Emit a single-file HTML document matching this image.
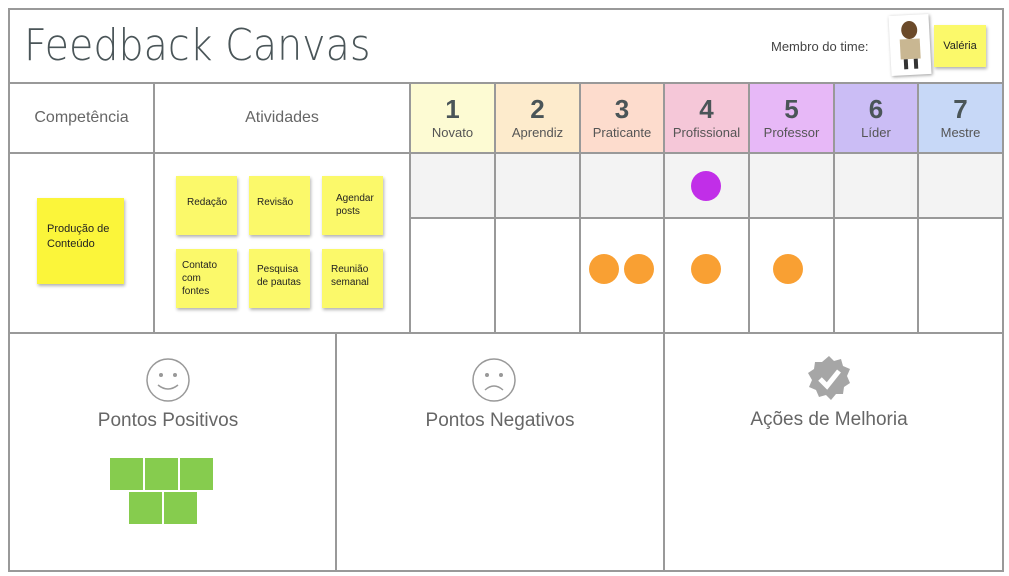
<!DOCTYPE html>
<html><head><meta charset="utf-8"><style>
body{margin:0;width:1009px;height:576px;background:#fff;position:relative;overflow:hidden;font-family:"Liberation Sans",sans-serif;}
.a{position:absolute;}
.h{position:absolute;background:#999;height:2px;}
.v{position:absolute;background:#999;width:2px;}
.t{position:absolute;text-align:center;color:#666;}
.n{font-size:26px;font-weight:bold;color:#4a5558;}
.lv{font-size:13px;color:#555;}
.s{position:absolute;background:#fbf96a;box-shadow:1px 2px 3px rgba(0,0,0,.3);font-size:10px;color:#222;}
.dot{position:absolute;width:30px;height:30px;border-radius:50%;}
.g{position:absolute;background:#86cc4e;width:33px;height:32px;}
</style></head><body>
<div class="a" style="left:411px;top:84px;width:84px;height:69px;background:#fdfbd3"></div>
<div class="a" style="left:496px;top:84px;width:84px;height:69px;background:#fdebcc"></div>
<div class="a" style="left:581px;top:84px;width:83px;height:69px;background:#fddccd"></div>
<div class="a" style="left:665px;top:84px;width:84px;height:69px;background:#f5c7d8"></div>
<div class="a" style="left:750px;top:84px;width:84px;height:69px;background:#e7b8f7"></div>
<div class="a" style="left:835px;top:84px;width:83px;height:69px;background:#cbbdf5"></div>
<div class="a" style="left:919px;top:84px;width:84px;height:69px;background:#c7d8f7"></div>
<div class="a" style="left:411px;top:154px;width:592px;height:64px;background:#f3f3f3"></div>
<div class="h" style="left:9px;top:8px;width:995px"></div>
<div class="h" style="left:9px;top:82px;width:995px"></div>
<div class="h" style="left:9px;top:152px;width:995px"></div>
<div class="h" style="left:410px;top:217px;width:594px"></div>
<div class="h" style="left:9px;top:332px;width:995px"></div>
<div class="h" style="left:9px;top:570px;width:995px"></div>
<div class="v" style="left:8px;top:8px;height:564px"></div>
<div class="v" style="left:1002px;top:8px;height:564px"></div>
<div class="v" style="left:153px;top:82px;height:252px"></div>
<div class="v" style="left:409px;top:82px;height:252px"></div>
<div class="v" style="left:494px;top:82px;height:252px"></div>
<div class="v" style="left:579px;top:82px;height:252px"></div>
<div class="v" style="left:663px;top:82px;height:252px"></div>
<div class="v" style="left:748px;top:82px;height:252px"></div>
<div class="v" style="left:833px;top:82px;height:252px"></div>
<div class="v" style="left:917px;top:82px;height:252px"></div>
<div class="v" style="left:335px;top:332px;height:240px"></div>
<div class="v" style="left:663px;top:332px;height:240px"></div>
<div class="a" style="left:24px;top:20px;font-size:44px;color:#4a5558;font-family:'DejaVu Sans',sans-serif;font-weight:200;transform:scaleX(0.9);transform-origin:left top;white-space:nowrap">Feedback Canvas</div>
<div class="a" style="left:771px;top:39px;font-size:13px;color:#444">Membro do time:</div>
<div class="a" style="left:890px;top:15px;width:40px;height:60px;background:#fff;box-shadow:1px 1px 3px rgba(0,0,0,.4);transform:rotate(-3deg)">
<div class="a" style="left:12px;top:6px;width:16px;height:18px;border-radius:50%;background:#6b4a2a"></div>
<div class="a" style="left:10px;top:24px;width:20px;height:20px;background:#c9b792"></div>
<div class="a" style="left:13px;top:44px;width:4px;height:10px;background:#333"></div>
<div class="a" style="left:23px;top:44px;width:4px;height:10px;background:#333"></div></div>
<div class="s" style="left:934px;top:25px;width:52px;height:42px;font-size:11px;line-height:42px;text-align:center">Valéria</div>
<div class="t" style="left:9px;top:109px;width:145px;font-size:16px">Competência</div>
<div class="t" style="left:154px;top:109px;width:256px;font-size:16px">Atividades</div>
<div class="t" style="left:410px;top:94px;width:85px"><div class="n">1</div><div class="lv">Novato</div></div>
<div class="t" style="left:495px;top:94px;width:85px"><div class="n">2</div><div class="lv">Aprendiz</div></div>
<div class="t" style="left:580px;top:94px;width:84px"><div class="n">3</div><div class="lv">Praticante</div></div>
<div class="t" style="left:664px;top:94px;width:85px"><div class="n">4</div><div class="lv">Profissional</div></div>
<div class="t" style="left:749px;top:94px;width:85px"><div class="n">5</div><div class="lv">Professor</div></div>
<div class="t" style="left:834px;top:94px;width:84px"><div class="n">6</div><div class="lv">Líder</div></div>
<div class="t" style="left:918px;top:94px;width:85px"><div class="n">7</div><div class="lv">Mestre</div></div>
<div class="s" style="left:37px;top:198px;width:87px;height:86px;background:#fbf53a;font-size:11px;"><div style="padding:24px 0 0 10px;line-height:15px">Produção de<br>Conteúdo</div></div>
<div class="s" style="left:176px;top:176px;width:61px;height:59px"><div style="padding:21px 0 0 11px">Redação</div></div>
<div class="s" style="left:249px;top:176px;width:61px;height:59px"><div style="padding:21px 0 0 8px">Revisão</div></div>
<div class="s" style="left:322px;top:176px;width:61px;height:59px"><div style="padding:16px 0 0 14px;line-height:13px">Agendar<br>posts</div></div>
<div class="s" style="left:176px;top:249px;width:61px;height:59px"><div style="padding:10px 0 0 6px;line-height:13px">Contato<br>com<br>fontes</div></div>
<div class="s" style="left:249px;top:249px;width:61px;height:59px"><div style="padding:14px 0 0 8px;line-height:13px">Pesquisa<br>de pautas</div></div>
<div class="s" style="left:322px;top:249px;width:61px;height:59px"><div style="padding:14px 0 0 9px;line-height:13px">Reunião<br>semanal</div></div>
<div class="dot" style="left:691px;top:171px;background:#c12ee8"></div>
<div class="dot" style="left:589px;top:254px;background:#f9a033"></div>
<div class="dot" style="left:624px;top:254px;background:#f9a033"></div>
<div class="dot" style="left:691px;top:254px;background:#f9a033"></div>
<div class="dot" style="left:773px;top:254px;background:#f9a033"></div>
<svg class="a" style="left:145px;top:357px" width="46" height="46"><circle cx="23" cy="23" r="21" fill="none" stroke="#999" stroke-width="1.5"/><circle cx="16" cy="18" r="2" fill="#999"/><circle cx="30" cy="18" r="2" fill="#999"/><path d="M13 28 Q23 36 33 28" fill="none" stroke="#999" stroke-width="1.5"/></svg>
<svg class="a" style="left:471px;top:357px" width="46" height="46"><circle cx="23" cy="23" r="21" fill="none" stroke="#999" stroke-width="1.5"/><circle cx="16" cy="18" r="2" fill="#999"/><circle cx="30" cy="18" r="2" fill="#999"/><path d="M14 33 Q23 25 32 33" fill="none" stroke="#999" stroke-width="1.5"/></svg>
<svg class="a" style="left:806px;top:355px" width="46" height="48"><polygon points="23,1 28,6 35,4 37,11 44,14 41,21 44,28 38,32 37,39 30,39 25,45 20,40 13,42 10,35 3,32 6,25 2,18 8,14 9,7 16,7" fill="#a6a6a6"/><path d="M14 24 L21 31 L33 16" fill="none" stroke="#fff" stroke-width="5"/></svg>
<div class="t" style="left:9px;top:410px;width:318px;font-size:19px">Pontos Positivos</div>
<div class="t" style="left:336px;top:410px;width:328px;font-size:19px">Pontos Negativos</div>
<div class="t" style="left:664px;top:409px;width:330px;font-size:19px">Ações de Melhoria</div>
<div class="g" style="left:110px;top:458px"></div>
<div class="g" style="left:145px;top:458px"></div>
<div class="g" style="left:180px;top:458px"></div>
<div class="g" style="left:129px;top:492px"></div>
<div class="g" style="left:164px;top:492px"></div>
</body></html>
